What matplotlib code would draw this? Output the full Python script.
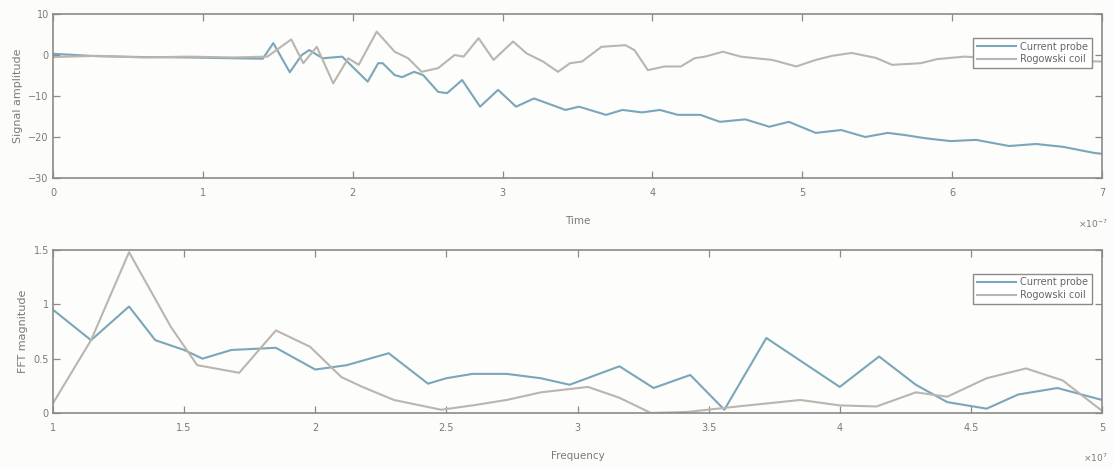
import matplotlib
matplotlib.use("Agg")
import matplotlib.pyplot as plt

# ---- time-domain signals, time in units of 1e-7 ----
probe_t = [0.0, 0.3, 0.6, 0.9, 1.2, 1.40, 1.47, 1.58, 1.66, 1.71, 1.80, 1.93,
           2.10, 2.17, 2.20, 2.28, 2.33, 2.41, 2.47, 2.57, 2.63, 2.73, 2.85,
           2.97, 3.09, 3.21, 3.42, 3.51, 3.69, 3.80, 3.93, 4.05, 4.17, 4.32,
           4.45, 4.62, 4.78, 4.91, 5.09, 5.26, 5.42, 5.57, 5.68, 5.82, 5.99,
           6.16, 6.38, 6.56, 6.74, 6.95, 7.0]
probe_v = [0.3, -0.3, -0.5, -0.6, -0.8, -0.9, 2.9, -4.2, 0.0, 1.2, -0.8, -0.4,
           -6.5, -2.0, -2.0, -4.9, -5.4, -4.1, -4.9, -9.0, -9.3, -6.1, -12.6,
           -8.5, -12.6, -10.6, -13.4, -12.6, -14.6, -13.4, -14.0, -13.4, -14.6,
           -14.6, -16.3, -15.7, -17.5, -16.3, -19.0, -18.3, -20.0, -19.0,
           -19.5, -20.3, -21.0, -20.7, -22.2, -21.7, -22.4, -23.9, -24.1]

coil_t = [0.0, 0.3, 0.6, 0.9, 1.2, 1.43, 1.59, 1.67, 1.76, 1.87, 1.97, 2.04,
          2.16, 2.28, 2.37, 2.46, 2.57, 2.68, 2.74, 2.84, 2.94, 3.07, 3.16,
          3.27, 3.37, 3.45, 3.53, 3.66, 3.82, 3.88, 3.97, 4.08, 4.19, 4.28,
          4.35, 4.47, 4.59, 4.69, 4.80, 4.96, 5.09, 5.20, 5.33, 5.49, 5.60,
          5.79, 5.90, 6.08, 6.40, 6.70, 7.0]
coil_v = [-0.5, -0.2, -0.6, -0.4, -0.6, -0.4, 3.8, -2.0, 2.0, -6.9, -0.8, -2.4,
          5.7, 0.8, -0.8, -4.1, -3.2, 0.0, -0.4, 4.1, -1.2, 3.3, 0.4, -1.6,
          -4.1, -2.0, -1.6, 2.0, 2.4, 1.2, -3.7, -2.8, -2.8, -0.8, -0.4, 0.8,
          -0.4, -0.8, -1.2, -2.8, -1.2, -0.2, 0.5, -0.7, -2.4, -2.0, -1.0,
          -0.4, -1.0, -1.3, -1.6]

# ---- FFT magnitudes, frequency in units of 1e7 ----
probe_f = [1.0, 1.145, 1.29, 1.39, 1.5, 1.57, 1.68, 1.85, 2.0, 2.12, 2.28,
           2.43, 2.5, 2.6, 2.73, 2.86, 2.97, 3.16, 3.29, 3.43, 3.56, 3.72,
           4.0, 4.15, 4.29, 4.41, 4.56, 4.68, 4.83, 5.0]
probe_m = [0.95, 0.67, 0.98, 0.67, 0.58, 0.50, 0.58, 0.60, 0.40, 0.44, 0.55,
           0.27, 0.32, 0.36, 0.36, 0.32, 0.26, 0.43, 0.23, 0.35, 0.03, 0.69,
           0.24, 0.52, 0.26, 0.10, 0.04, 0.17, 0.23, 0.12]

coil_f = [1.0, 1.145, 1.29, 1.45, 1.55, 1.71, 1.85, 1.98, 2.1, 2.18, 2.3,
          2.48, 2.6, 2.73, 2.86, 3.04, 3.16, 3.28, 3.42, 3.61, 3.73, 3.85,
          4.0, 4.14, 4.29, 4.41, 4.56, 4.71, 4.85, 5.0]
coil_m = [0.09, 0.67, 1.48, 0.79, 0.44, 0.37, 0.76, 0.61, 0.33, 0.24, 0.12,
          0.03, 0.07, 0.12, 0.19, 0.24, 0.14, 0.00, 0.01, 0.06, 0.09, 0.12,
          0.07, 0.06, 0.19, 0.15, 0.32, 0.41, 0.30, 0.02]

BLUE = "#7aa6ba"
GRAY = "#bcb5ae"
FRAME = "#8a8a8a"
TXT = "#7a7a7a"

W, H = 1113, 468
fig = plt.figure(figsize=(W / 100, H / 100), dpi=100, facecolor="#fcfcfb")

def px_axes(left, top, right, bottom):
    return fig.add_axes([left / W, 1 - bottom / H, (right - left) / W,
                         (bottom - top) / H])

def style(ax):
    ax.set_facecolor("#fdfdfc")
    for s in ax.spines.values():
        s.set_color(FRAME)
        s.set_linewidth(1.2)
    ax.tick_params(direction="in", length=5, width=0.9, color=FRAME,
                   labelcolor=TXT, labelsize=7, top=True, right=True)
    ax.tick_params(axis="x", pad=7)
    ax.tick_params(axis="y", pad=3)

def add_legend(ax):
    ax.legend(loc="upper right", bbox_to_anchor=(0.995, 0.885), fontsize=7,
              frameon=True, fancybox=False, edgecolor=FRAME,
              labelcolor="#666666", handlelength=4.0, borderpad=0.4,
              labelspacing=0.25, handletextpad=0.4, framealpha=1)

ax1 = px_axes(53, 14, 1102, 178)
ax1.plot(probe_t, probe_v, color=BLUE, lw=1.5, label="Current probe")
ax1.plot(coil_t, coil_v, color=GRAY, lw=1.5, label="Rogowski coil")
ax1.set_xlim(0, 7)
ax1.set_ylim(-30, 10)
ax1.set_yticks([-30, -20, -10, 0, 10])
ax1.set_xticks(range(0, 8))
ax1.set_xlabel("Time", fontsize=7.5, color=TXT, labelpad=13)
ax1.set_ylabel("Signal amplitude", fontsize=8, color=TXT, labelpad=4)
style(ax1)
add_legend(ax1)

ax2 = px_axes(53, 250, 1102, 413)
ax2.plot(probe_f, probe_m, color=BLUE, lw=1.5, label="Current probe")
ax2.plot(coil_f, coil_m, color=GRAY, lw=1.5, label="Rogowski coil")
ax2.set_xlim(1, 5)
ax2.set_ylim(0, 1.5)
ax2.set_xticks([1, 1.5, 2, 2.5, 3, 3.5, 4, 4.5, 5])
ax2.set_xticklabels(["1", "1.5", "2", "2.5", "3", "3.5", "4", "4.5", "5"])
ax2.set_yticks([0, 0.5, 1, 1.5])
ax2.set_yticklabels(["0", "0.5", "1", "1.5"])
ax2.set_xlabel("Frequency", fontsize=7.5, color=TXT, labelpad=13)
ax2.set_ylabel("FFT magnitude", fontsize=8, color=TXT, labelpad=4)
style(ax2)
add_legend(ax2)

fig.text(1108 / W, 1 - 224 / H, r"$\times10^{-7}$", fontsize=6.5, color=TXT,
         ha="right", va="center")
fig.text(1108 / W, 1 - 458 / H, r"$\times10^{7}$", fontsize=6.5, color=TXT,
         ha="right", va="center")

fig.savefig("out.png", dpi=100, facecolor=fig.get_facecolor())
